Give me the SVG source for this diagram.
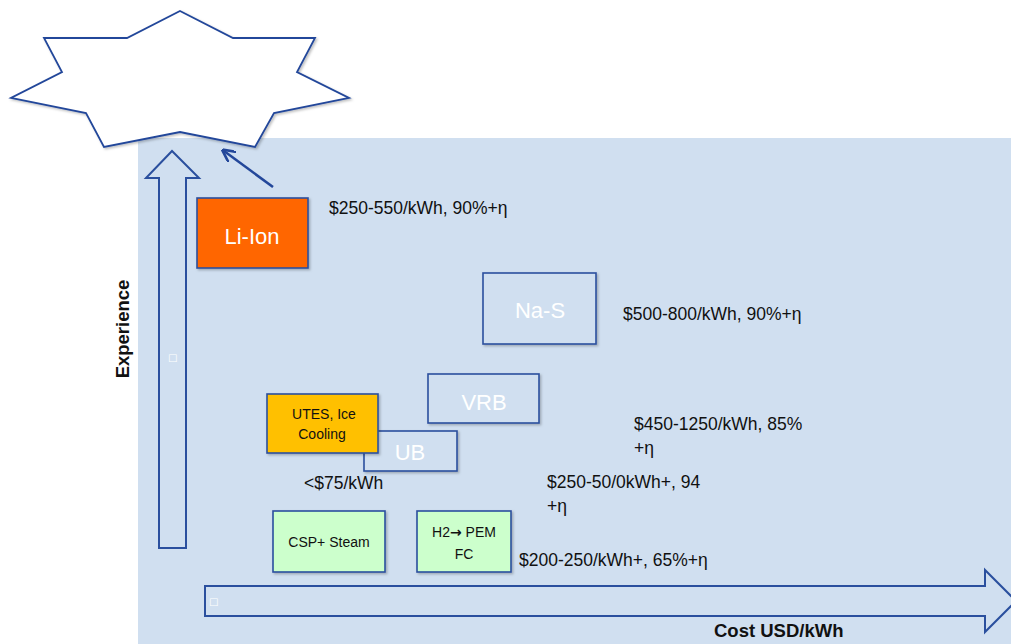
<svg xmlns="http://www.w3.org/2000/svg" width="1011" height="644" viewBox="0 0 1011 644">
  <defs>
    <style>
      .bg { fill: #D0DFF0; }
      .outline { stroke: #2A4F9E; stroke-width: 2; }
      .box { stroke: #2A4F9E; stroke-width: 1.6; filter: url(#shadow); }
      .lbl { font-family: "Liberation Sans", Arial, sans-serif; font-size: 17.5px; fill: #111; }
      .inbox { font-family: "Liberation Sans", Arial, sans-serif; font-size: 22px; fill: #FFFFFF; text-anchor: middle; }
      .small { font-family: "Liberation Sans", Arial, sans-serif; font-size: 14px; fill: #111; text-anchor: middle; }
      .axis { font-family: "Liberation Sans", Arial, sans-serif; font-size: 18.5px; font-weight: bold; fill: #111; }
      .tofu { font-family: "DejaVu Sans", sans-serif; font-size: 10px; fill: #FFFFFF; }
      .arw { font-family: "DejaVu Sans", sans-serif; font-weight: bold; }
    </style>
    <filter id="shadow" x="-10%" y="-10%" width="130%" height="130%">
      <feDropShadow dx="1.5" dy="1.5" stdDeviation="1.2" flood-color="#000" flood-opacity="0.25"/>
    </filter>
    <marker id="head" viewBox="0 0 10 10" refX="8" refY="5" markerWidth="5" markerHeight="5" orient="auto">
      <path d="M0,0 L10,5 L0,10" fill="none" stroke="#23479A" stroke-width="2"/>
    </marker>
  </defs>

  <!-- chart background -->
  <rect class="bg" x="138" y="138" width="873" height="506"/>

  <!-- seven-point star at the top -->
  <g id="star">
    <polygon points="180,11 233,38 315,38 297,72 349,98 274,113 255,147 180,132 104,147 86,113 11,98 62,72 44,38 127,38" fill="#FFFFFF" stroke="#23479A" stroke-width="1.8" stroke-linejoin="miter" filter="url(#shadow)"/>
  </g>

  <!-- axes -->
  <g id="axis-experience">
    <polygon class="bg outline" points="159,548 159,178 146,178 172,151 199,178 186,178 186,548"/>
    <text class="tofu" x="168" y="361">□</text>
    <text class="axis" transform="translate(129,329) rotate(-90)" text-anchor="middle">Experience</text>
  </g>
  <g id="axis-cost">
    <polygon class="bg outline" points="205,586 985,586 985,570 1016,601 985,632 985,616 205,616"/>
    <text class="tofu" x="209" y="605">□</text>
    <text class="axis" x="714" y="637">Cost USD/kWh</text>
  </g>

  <!-- connectors -->
  <g id="connectors">
    <line x1="273" y1="187" x2="224" y2="151" stroke="#23479A" stroke-width="2.6" marker-end="url(#head)"/>
  </g>

  <!-- storage technologies -->
  <g id="li-ion">
    <rect class="box" x="197" y="198" width="111" height="70" fill="#FF6600"/>
    <text class="inbox" x="252" y="244">Li-Ion</text>
    <text class="lbl" x="329" y="214">$250-550/kWh, 90%+η</text>
  </g>

  <g id="na-s">
    <rect class="box" x="483" y="273" width="113" height="71" fill="#D0DFF0"/>
    <text class="inbox" x="540" y="318">Na-S</text>
    <text class="lbl" x="623" y="320">$500-800/kWh, 90%+η</text>
  </g>

  <g id="vrb">
    <rect class="box" x="428" y="374" width="111" height="49" fill="#D0DFF0"/>
    <text class="inbox" x="484" y="410">VRB</text>
    <text class="lbl" x="634" y="430">$450-1250/kWh,  85%</text>
    <text class="lbl" x="634" y="454">+η</text>
  </g>

  <g id="ub">
    <rect class="box" x="364" y="431" width="93" height="40" fill="#D0DFF0"/>
    <text class="inbox" x="410" y="460">UB</text>
    <text class="lbl" x="547" y="488">$250-50/0kWh+,  94 </text>
    <text class="lbl" x="547" y="512">+η</text>
  </g>

  <g id="utes">
    <rect class="box" x="267" y="394" width="111" height="59" fill="#FFC000"/>
    <text class="small" x="324" y="419">UTES, Ice </text>
    <text class="small" x="322" y="439">Cooling</text>
    <text class="lbl" x="304" y="489">&lt;$75/kWh</text>
  </g>

  <g id="csp">
    <rect class="box" x="273" y="511" width="112" height="61" fill="#CCFFCC"/>
    <text class="small" x="329" y="547">CSP+ Steam </text>
  </g>

  <g id="h2">
    <rect class="box" x="417" y="511" width="94" height="61" fill="#CCFFCC"/>
    <text class="small" x="464" y="537">H2<tspan class="arw">→</tspan> PEM </text>
    <text class="small" x="464" y="559">FC</text>
    <text class="lbl" x="519" y="566">$200-250/kWh+, 65%+η</text>
  </g>
</svg>
